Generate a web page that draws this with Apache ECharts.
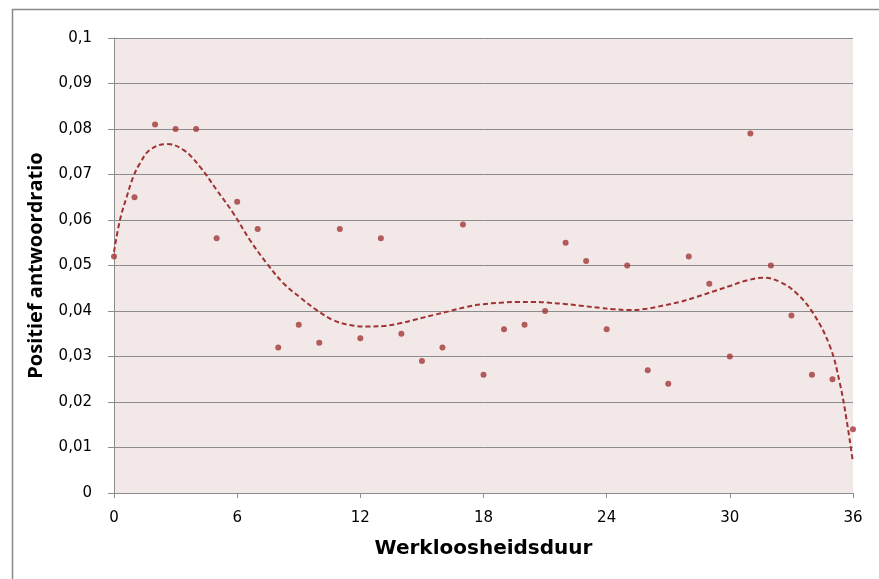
<!DOCTYPE html>
<html>
<head>
<meta charset="utf-8">
<script src="https://cdn.jsdelivr.net/npm/echarts@6/dist/echarts.min.js"></script>
<style>html,body{margin:0;padding:0;background:#fff;}#c{width:879px;height:579px;}</style>
</head>
<body>
<div id="c"></div>
<script>
// Observed data points (months, positive response ratio)
const months = [0,1,2,3,4,5,6,7,8,9,10,11,12,13,14,15,16,17,18,19,20,21,22,23,24,25,26,27,28,29,30,31,32,33,34,35,36];
const ratios = [0.052,0.065,0.081,0.080,0.080,0.056,0.064,0.058,0.032,0.037,0.033,0.058,0.034,0.056,0.035,0.029,0.032,0.059,0.026,0.036,0.037,0.040,0.055,0.051,0.036,0.050,0.027,0.024,0.052,0.046,0.030,0.079,0.050,0.039,0.026,0.025,0.014];

// Trendline
const trendX = [0,0.29,0.62,0.94,1.27,1.75,2.57,3.38,4.19,5.0,5.81,6.62,7.44,8.25,9.06,9.87,10.68,11.5,12.31,13.12,13.93,14.74,15.55,16.37,17.18,17.99,18.8,19.61,20.42,21.24,22.05,22.86,23.67,24.32,25.13,25.95,26.76,27.57,28.38,29.19,30.0,30.82,31.63,32.44,33.25,34.06,34.88,35.36,35.69,35.98];
const trendY = [0.053,0.060,0.0651,0.0695,0.0725,0.0754,0.0767,0.0754,0.0717,0.0666,0.0615,0.0556,0.0505,0.0461,0.0430,0.0402,0.0380,0.0369,0.0366,0.0367,0.0373,0.0382,0.0391,0.0400,0.0409,0.0415,0.0418,0.0420,0.0420,0.0418,0.0415,0.0411,0.0407,0.0404,0.0402,0.0405,0.0412,0.0420,0.0431,0.0443,0.0455,0.0467,0.0473,0.0464,0.0439,0.0395,0.0322,0.0241,0.0160,0.0073];

const xTicks = [0,6,12,18,24,30,36];
const yTicks = [0,0.01,0.02,0.03,0.04,0.05,0.06,0.07,0.08,0.09,0.1];

const chart = echarts.init(document.getElementById('c'), null, {renderer:'canvas'});
const tickFont = '"DejaVu Sans", sans-serif';
const titleFont = '"DejaVu Sans", sans-serif';
chart.setOption({
  animation: false,
  backgroundColor: '#ffffff',
  graphic: [{
    type: 'rect', left: 10, top: 7,
    shape: {x: 0, y: 0, width: 900, height: 600},
    style: {fill: 'none', stroke: '#8a8a8a', lineWidth: 1.5},
    silent: true, z: -1
  }],
  grid: {left: 114, top: 38, right: 26, bottom: 86, show: true, backgroundColor: '#f2e8e8', borderWidth: 0},
  xAxis: {
    type: 'value', min: 0, max: 36, interval: 6,
    name: 'Werkloosheidsduur', nameLocation: 'middle', nameGap: 46,
    nameTextStyle: {fontFamily: titleFont, fontWeight: 'bold', fontSize: 20, color: '#000'},
    axisLine: {show: true, lineStyle: {color: '#8c8c8c', width: 1}},
    axisTick: {show: true, length: 5, lineStyle: {color: '#8c8c8c'}},
    axisLabel: {fontFamily: tickFont, fontSize: 15, color: '#000', margin: 18,
      formatter: v => xTicks.includes(v) ? String(v) : ''},
    splitLine: {show: false}
  },
  yAxis: {
    type: 'value', min: 0, max: 0.1, interval: 0.01,
    name: 'Positief antwoordratio', nameLocation: 'middle', nameGap: 68, nameRotate: 90,
    nameTextStyle: {fontFamily: '"Open Sans", sans-serif', fontWeight: 'bold', fontSize: 20, color: '#000'},
    axisLine: {show: true, lineStyle: {color: '#8c8c8c', width: 1}},
    axisTick: {show: true, length: 6, lineStyle: {color: '#8c8c8c'}},
    axisLabel: {fontFamily: tickFont, fontSize: 15, color: '#000', margin: 22,
      formatter: v => {
        const t = yTicks.find(k => Math.abs(k - v) < 1e-9);
        return t === undefined ? '' : String(+t.toFixed(2)).replace('.', ',');
      }},
    splitLine: {show: true, lineStyle: {color: '#8c8c8c', width: 1}}
  },
  series: [
    {
      type: 'line', data: trendX.map((x, i) => [x, trendY[i]]),
      smooth: 0.4, showSymbol: false, symbol: 'none',
      lineStyle: {color: '#a03232', width: 2, type: [5, 3]}, z: 2
    },
    {
      type: 'scatter', data: months.map((m, i) => [m, ratios[i]]),
      symbol: 'circle', symbolSize: 6,
      itemStyle: {color: '#a33636'}, z: 3
    }
  ]
});
</script>
</body>
</html>
